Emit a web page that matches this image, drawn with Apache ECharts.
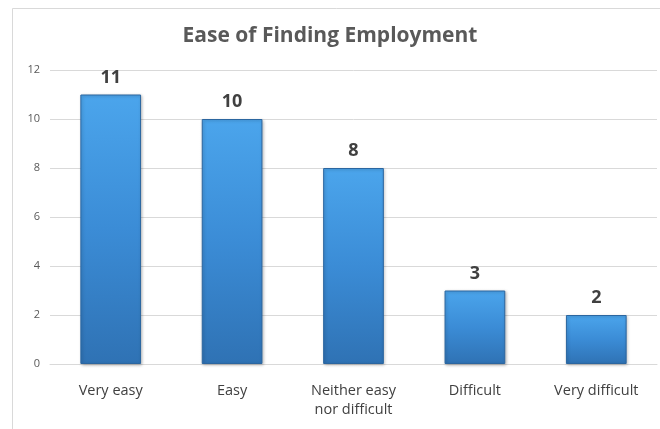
<!DOCTYPE html>
<html><head><meta charset="utf-8">
<script src="https://cdn.jsdelivr.net/npm/echarts@6/dist/echarts.min.js"></script>
<style>html,body{margin:0;padding:0;background:#fff}#c{width:660px;height:429px}</style>
</head><body><div id="c"></div>
<script>
const categories = ['Very easy', 'Easy', 'Neither easy\nnor difficult', 'Difficult', 'Very difficult'];
const values = [11, 10, 8, 3, 2];
const yTicks = [0, 2, 4, 6, 8, 10, 12];
const title = 'Ease of Finding Employment';

const chart = echarts.init(document.getElementById('c'), null, {renderer: 'canvas'});
chart.setOption({
  backgroundColor: '#ffffff',
  animation: false,
  graphic: [{
    type: 'rect', left: 10, top: 6, shape: {width: 700, height: 500},
    style: {fill: 'none', stroke: '#d9d9d9', lineWidth: 1}, silent: true
  }],
  title: {
    text: title, left: 'center', top: 21,
    textStyle: {fontFamily: 'Open Sans', fontSize: 21, fontWeight: 'bold', color: '#595959'}
  },
  grid: {left: 50, right: 3, top: 70, bottom: 65, containLabel: false},
  xAxis: {
    type: 'category', data: categories,
    axisLine: {lineStyle: {color: '#d9d9d9'}},
    axisTick: {show: false},
    axisLabel: {color: '#404040', fontFamily: 'Open Sans', fontSize: 14.5, margin: 17, lineHeight: 19, interval: 0}
  },
  yAxis: {
    type: 'value', min: 0, max: 12, interval: 2,
    axisLine: {show: false}, axisTick: {show: false},
    splitLine: {lineStyle: {color: '#d9d9d9'}},
    axisLabel: {color: '#595959', fontFamily: 'Open Sans', fontSize: 11, margin: 10,
      formatter: v => yTicks.includes(v) ? String(v) : ''}
  },
  series: [{
    type: 'bar', data: values, barWidth: '50%',
    itemStyle: {
      color: new echarts.graphic.LinearGradient(0, 0, 0, 1, [
        {offset: 0, color: '#4ba5ec'},
        {offset: 0.5, color: '#3b8cd6'},
        {offset: 1, color: '#2f72b4'}
      ]),
      borderColor: '#2b66a0', borderWidth: 1,
      shadowColor: 'rgba(0,0,0,0.25)', shadowBlur: 3, shadowOffsetX: 1, shadowOffsetY: 1
    },
    label: {
      show: true, position: 'top', distance: 8,
      fontFamily: 'Open Sans', fontSize: 18, fontWeight: 'bold', color: '#404040'
    }
  }]
});
</script></body></html>
